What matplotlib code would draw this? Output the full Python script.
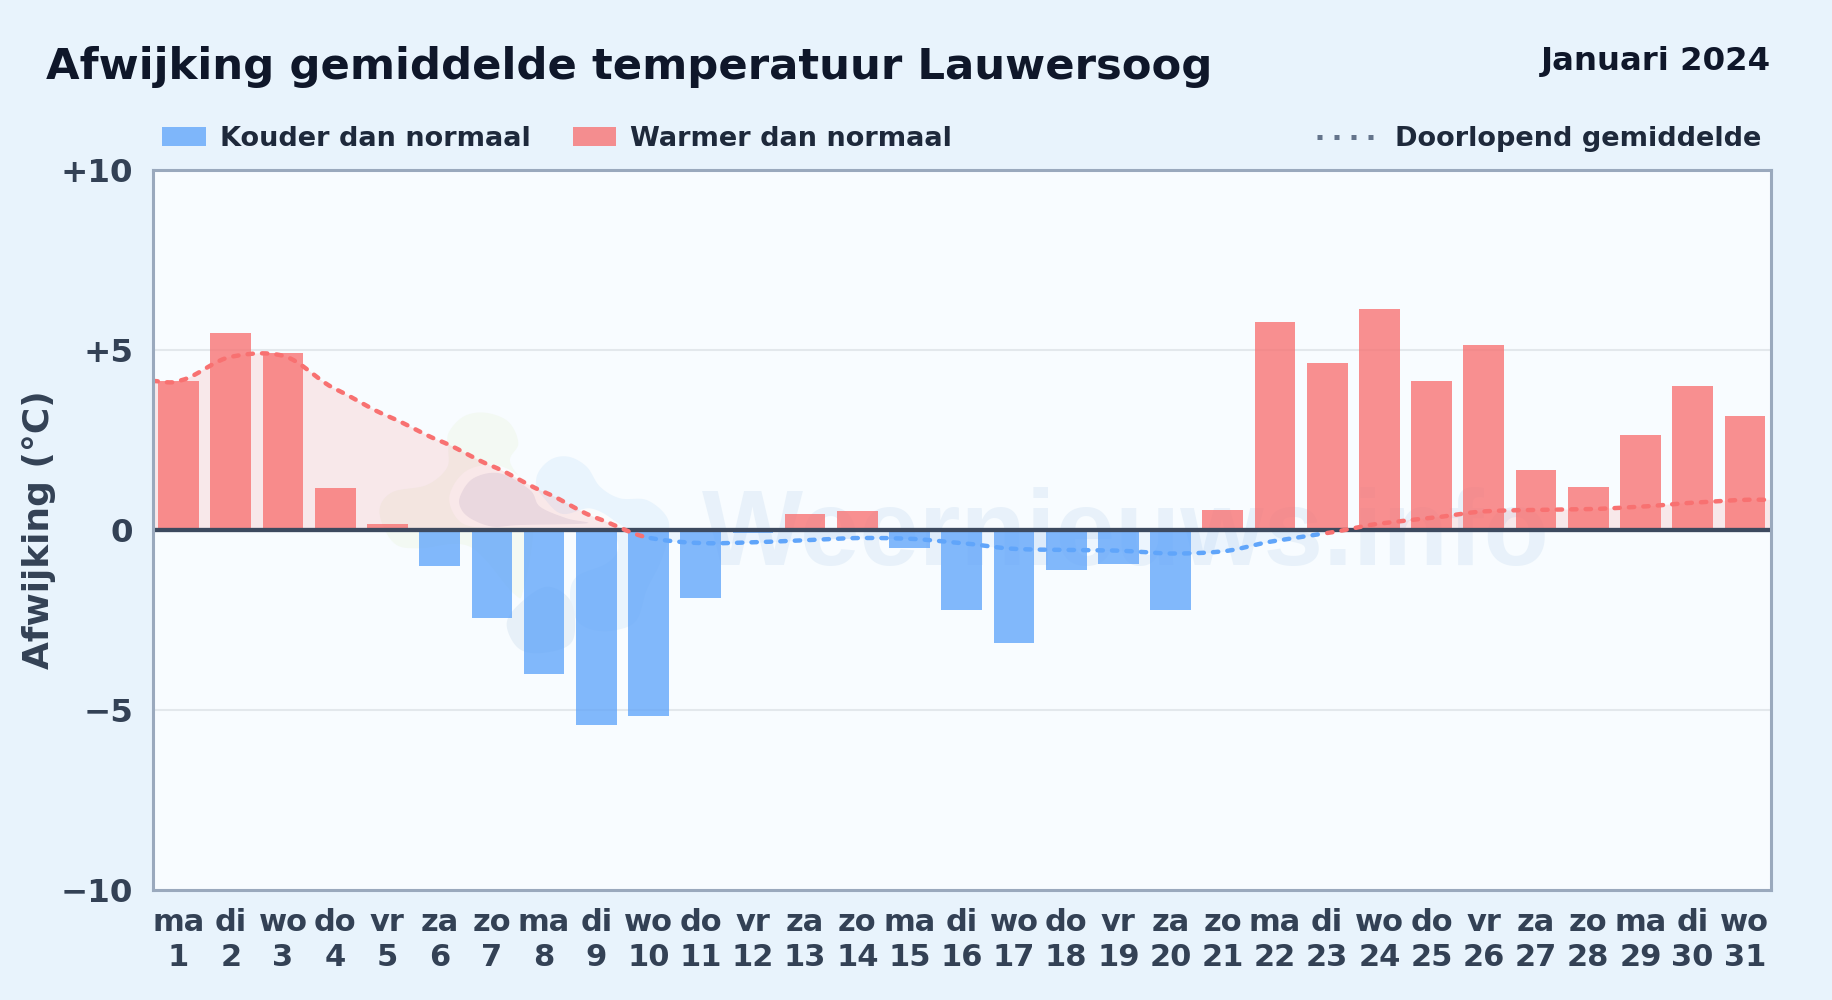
import matplotlib
matplotlib.use("Agg")
import matplotlib.pyplot as plt
from matplotlib.lines import Line2D
from matplotlib.patches import Polygon, Rectangle
from matplotlib.transforms import IdentityTransform
import numpy as np

W, H = 1832, 1000

weekdays = ["ma", "di", "wo", "do", "vr", "za", "zo"] * 4 + ["ma", "di", "wo"]
days = list(range(1, 32))
deviation = [4.13, 5.46, 4.91, 1.15, 0.15, -1.0, -2.45, -4.0, -5.43, -5.17, -1.9, -0.1,
             0.44, 0.53, -0.5, -2.22, -3.13, -1.12, -0.96, -2.22, 0.56, 5.78, 4.62, 6.14,
             4.13, 5.13, 1.67, 1.18, 2.64, 4.0, 3.16]
running_mean = [4.13, 4.8, 4.83, 3.91, 3.16, 2.47, 1.77, 1.05, 0.33, -0.22, -0.37, -0.35,
                -0.29, -0.23, -0.25, -0.37, -0.53, -0.56, -0.58, -0.66, -0.6, -0.31, -0.09,
                0.17, 0.33, 0.51, 0.55, 0.57, 0.64, 0.75, 0.83]
y_ticks = [10, 5, 0, -5, -10]
y_labels = ["+10", "+5", "0", "\u22125", "\u221210"]

BLUE = "#60a5fa"
RED = "#f87171"
BG = "#e8f3fc"
DARK = "#334155"

# logo outlines behind the plot, as (x, y) at 3x from point (360, 390) of the figure, y down
logo = [
    ("#f3f9f3", [(265, 130), (310, 80), (375, 68), (445, 95), (475, 160), (450, 215), (500, 300),
                 (520, 420), (490, 600), (460, 610), (330, 470), (180, 475), (110, 465), (70, 410),
                 (60, 350), (100, 305), (200, 285), (260, 235), (265, 180)]),
    ("#e9f4fd", [(530, 260), (570, 210), (625, 200), (680, 230), (720, 290), (780, 325), (860, 330),
                 (920, 380), (925, 440), (900, 520), (860, 600), (830, 690), (770, 720), (700, 720),
                 (650, 690), (630, 620), (650, 560), (740, 520), (775, 470), (740, 390), (680, 365),
                 (600, 375), (540, 330)]),
    ("#fafcfd", [(268, 320), (320, 242), (420, 228), (520, 290), (600, 370), (690, 355), (760, 390),
                 (770, 420), (480, 412), (380, 415), (300, 395)]),
    ("#e8e9f2", [(300, 320), (340, 265), (420, 250), (510, 300), (540, 350), (620, 385), (680, 400),
                 (480, 405), (400, 410), (340, 390), (305, 360)]),
    ("#e7f0f8", [(440, 700), (480, 640), (560, 590), (630, 630), (645, 720), (620, 770), (530, 790),
                 (470, 770)]),
]


def smooth(x, y, n=24):
    # cardinal spline through the points, only for the look of the line
    x, y = np.asarray(x, float), np.asarray(y, float)
    xs, ys = [], []
    for i in range(len(x) - 1):
        y0, y1 = y[max(i - 1, 0)], y[i]
        y2, y3 = y[i + 1], y[min(i + 2, len(y) - 1)]
        t = np.linspace(0, 1, n, endpoint=False)
        m1, m2 = (y2 - y0) * 0.4, (y3 - y1) * 0.4
        xs.append(x[i] + (x[i + 1] - x[i]) * t)
        ys.append((2*t**3 - 3*t**2 + 1)*y1 + (t**3 - 2*t**2 + t)*m1
                  + (-2*t**3 + 3*t**2)*y2 + (t**3 - t**2)*m2)
    return np.concatenate(xs + [x[-1:]]), np.concatenate(ys + [y[-1:]])


def blob(points, n=10):
    # closed round outline through the points, in figure pixels
    p = np.array(points, float)
    out = []
    t = np.linspace(0, 1, n, endpoint=False)[:, None]
    for i in range(len(p)):
        p0, p1, p2, p3 = p[i - 1], p[i], p[(i + 1) % len(p)], p[(i + 2) % len(p)]
        out.append((2*t**3 - 3*t**2 + 1)*p1 + (t**3 - 2*t**2 + t)*(p2 - p0)/2
                   + (-2*t**3 + 3*t**2)*p2 + (t**3 - t**2)*(p3 - p1)/2)
    out = np.vstack(out)
    return np.column_stack([360 + out[:, 0] / 3, H - (390 + out[:, 1] / 3)])


fig = plt.figure(figsize=(W / 100, H / 100), dpi=100, facecolor=BG)
ax = fig.add_axes([152.5 / W, 1 - 890 / H, (1771 - 152.5) / W, (890 - 169.5) / H], facecolor="#f8fcff")

# watermark
for c, pts in logo:
    ax.add_patch(Polygon(blob(pts), closed=True, color=c, lw=0, transform=IdentityTransform(), zorder=0.5))
ax.text(702, H - 565, "Weernieuws.info", transform=IdentityTransform(), family="Liberation Sans",
        weight="bold", fontsize=77, color="#dbe9f6", alpha=0.55, ha="left", va="baseline", zorder=0.6)

colors = [RED if v > 0 else BLUE for v in deviation]
ax.bar(days, deviation, width=0.78, color=colors, alpha=0.78, lw=0, zorder=2)

# the line runs on to both edges of the plot
line_x = [0.5] + days + [31.5]
line_y = [running_mean[0]] + running_mean + [running_mean[-1]]
sx, sy = smooth(line_x, line_y)
ax.fill_between(sx, 0, sy, where=sy >= 0, interpolate=True, color=RED, alpha=0.14, lw=0, zorder=1)
ax.fill_between(sx, 0, sy, where=sy <= 0, interpolate=True, color=BLUE, alpha=0.08, lw=0, zorder=1)

# a stretch is red if one of its two ends is above zero
is_red = np.zeros(len(sx), bool)
for i in range(len(line_x) - 1):
    if max(line_y[i], line_y[i + 1]) > 0:
        is_red |= (sx >= line_x[i]) & (sx <= line_x[i + 1])
for mask, c in [(is_red, RED), (~is_red, BLUE)]:
    ax.plot(sx, np.where(mask, sy, np.nan), color=c, lw=3.2, linestyle=(0, (1.2, 2.05)),
            dash_capstyle="round", zorder=4)

ax.axhline(0, color="#3d4a5f", lw=3.1, zorder=3)
ax.set_xlim(0.5, 31.5)
ax.set_ylim(-10, 10)
ax.grid(axis="y", color="#e3e8ec", lw=1.5)
ax.xaxis.grid(False)
for gl in ax.get_ygridlines():
    gl.set_zorder(0.8)

ax.set_yticks(y_ticks)
ax.set_yticklabels(y_labels, fontsize=23.4, fontweight="bold", color=DARK)
ax.set_xticks(days)
ax.set_xticklabels([f"{a}\n{b}" for a, b in zip(weekdays, days)], fontsize=22, fontweight="bold",
                   color=DARK, linespacing=1.28)
ax.tick_params(axis="y", length=0, pad=14)
ax.tick_params(axis="x", length=0, pad=13)
for s in ax.spines.values():
    s.set_color("#9aa9bd")
    s.set_linewidth(2.2)
    s.set_zorder(5)
fig.text(39 / W, 1 - 530 / H, "Afwijking (\u00b0C)", rotation=90, fontsize=25.9, fontweight="bold",
         color=DARK, ha="center", va="center")

fig.text(45.5 / W, 1 - 79 / H, "Afwijking gemiddelde temperatuur Lauwersoog", fontsize=31.2,
         fontweight="bold", color="#0f172a", ha="left", va="baseline")
fig.text(1771 / W, 1 - 70 / H, "Januari 2024", fontsize=23.3, fontweight="bold", color="#0f172a",
         ha="right", va="baseline")

# legend
for x0, x1, c in [(161.5, 206, BLUE), (573, 616, RED)]:
    fig.add_artist(Rectangle((x0 / W, 1 - 146 / H), (x1 - x0) / W, 19 / H, color=c, alpha=0.78, lw=0,
                             transform=fig.transFigure))
fig.add_artist(Line2D([1317 / W, 1376 / W], [1 - 136.7 / H] * 2, color="#64748b", lw=3.6,
                      linestyle=(0, (1, 2.4)), dash_capstyle="butt", transform=fig.transFigure))
for x, s in [(219.5, "Kouder dan normaal"), (630, "Warmer dan normaal"), (1395, "Doorlopend gemiddelde")]:
    fig.text(x / W, 1 - 145.5 / H, s, fontsize=19.5, fontweight="bold", color="#1e293b",
             ha="left", va="baseline")

fig.savefig("out.png", dpi=100, facecolor=fig.get_facecolor())
